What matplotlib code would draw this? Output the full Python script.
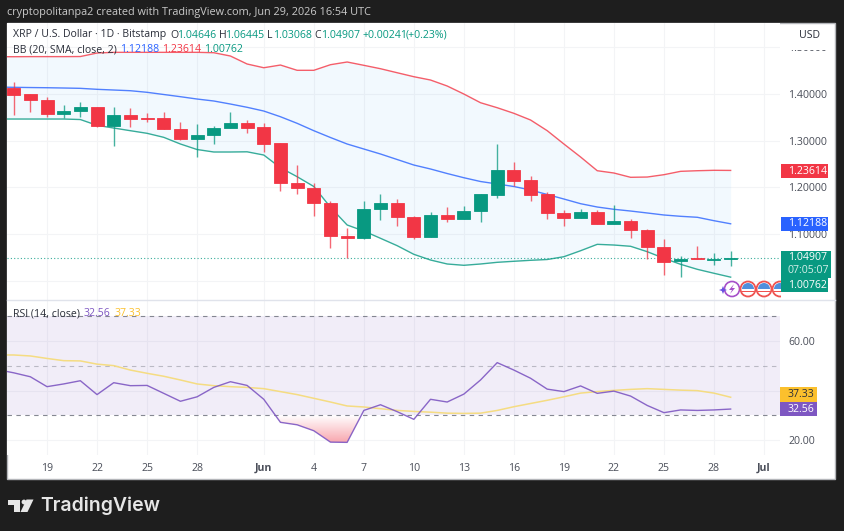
import matplotlib
matplotlib.use("Agg")
import matplotlib.pyplot as plt
import matplotlib.dates as mdates
import numpy as np
import pandas as pd
from matplotlib.patches import Rectangle, Circle, Polygon, Wedge
from matplotlib.colors import LinearSegmentedColormap

# Daily XRP/USD candles, 17 May - 29 Jun 2026
opens = [1.412, 1.399, 1.387, 1.357, 1.363, 1.371, 1.331, 1.355, 1.348, 1.348, 1.325, 1.303, 1.313, 1.327, 1.338,
         1.329, 1.294, 1.210, 1.199, 1.167, 1.096, 1.091, 1.153, 1.167, 1.136, 1.094, 1.141, 1.1315, 1.149, 1.1835,
         1.237, 1.215, 1.185, 1.1456, 1.134, 1.148, 1.122, 1.128, 1.1086, 1.072, 1.042, 1.049, 1.0452, 1.04646]
highs = [1.426, 1.400, 1.394, 1.376, 1.383, 1.371, 1.373, 1.370, 1.360, 1.362, 1.340, 1.336, 1.331, 1.362, 1.344,
         1.338, 1.295, 1.248, 1.210, 1.171, 1.1135, 1.171, 1.186, 1.176, 1.1385, 1.148, 1.157, 1.161, 1.186, 1.292,
         1.2535, 1.224, 1.190, 1.151, 1.153, 1.151, 1.163, 1.1315, 1.111, 1.089, 1.053, 1.075, 1.060, 1.06445]
lows = [1.355, 1.362, 1.351, 1.348, 1.350, 1.330, 1.288, 1.330, 1.340, 1.325, 1.301, 1.264, 1.293, 1.327, 1.317,
        1.276, 1.193, 1.185, 1.139, 1.070, 1.049, 1.089, 1.130, 1.117, 1.089, 1.094, 1.126, 1.1315, 1.126, 1.178,
        1.203, 1.170, 1.132, 1.117, 1.134, 1.122, 1.122, 1.092, 1.046, 1.012, 1.009, 1.046, 1.033, 1.03068]
closes = [1.398, 1.387, 1.357, 1.364, 1.371, 1.331, 1.355, 1.347, 1.347, 1.325, 1.303, 1.313, 1.327, 1.338, 1.328,
          1.293, 1.209, 1.198, 1.166, 1.096, 1.091, 1.1535, 1.167, 1.136, 1.094, 1.141, 1.1315, 1.149, 1.186, 1.237,
          1.214, 1.1835, 1.145, 1.134, 1.147, 1.122, 1.128, 1.108, 1.0715, 1.041, 1.0465, 1.0458, 1.04666, 1.04907]

# Bollinger bands and RSI start one day earlier, 16 May, and run off the left edge
bb_upper = [1.4796, 1.4796, 1.4798, 1.4798, 1.4798, 1.4800, 1.4875, 1.4890, 1.4890, 1.4890, 1.4890, 1.4890, 1.4890,
            1.4882, 1.4811, 1.4640, 1.4560, 1.4618, 1.4505, 1.4505, 1.4625, 1.4683, 1.4612, 1.4539, 1.4453, 1.4368,
            1.4297, 1.4169, 1.3997, 1.3811, 1.3704, 1.3584, 1.3441, 1.3212, 1.2927, 1.2649, 1.2355, 1.2306, 1.2214,
            1.2220, 1.2270, 1.2342, 1.2355, 1.2364, 1.23614]
bb_basis = [1.4146, 1.4141, 1.4136, 1.4132, 1.4126, 1.4119, 1.4098, 1.4083, 1.4068, 1.4034, 1.3987, 1.3940, 1.3890,
            1.3848, 1.3783, 1.3713, 1.3633, 1.3511, 1.3370, 1.3212, 1.3066, 1.2927, 1.2820, 1.2713, 1.2595, 1.2477,
            1.2392, 1.2295, 1.2205, 1.2124, 1.2071, 1.2017, 1.1942, 1.1846, 1.1749, 1.1649, 1.1578, 1.1529, 1.1492,
            1.1450, 1.1407, 1.1379, 1.1358, 1.1285, 1.12188]
bb_lower = [1.3462, 1.3462, 1.3462, 1.3462, 1.3462, 1.3451, 1.3327, 1.3269, 1.3212, 1.3156, 1.3070, 1.2927, 1.2809,
            1.2756, 1.2756, 1.2760, 1.2691, 1.2419, 1.2227, 1.2017, 1.1572, 1.1193, 1.1064, 1.0908, 1.0750, 1.0565,
            1.0443, 1.0358, 1.0330, 1.0358, 1.0394, 1.0416, 1.0437, 1.0454, 1.0514, 1.0642, 1.0779, 1.0764, 1.0737,
            1.0621, 1.0480, 1.0351, 1.0244, 1.0159, 1.00762]
rsi = [48.5, 47.2, 45.6, 41.6, 42.7, 44.0, 38.4, 43.2, 42.0, 42.1, 38.9, 35.7, 37.5, 41.3, 43.6, 42.1, 36.5, 27.2,
       26.2, 23.8, 19.2, 19.1, 32.0, 34.3, 31.5, 28.4, 36.5, 35.4, 38.6, 44.3, 51.3, 48.3, 45.0, 40.6, 39.6, 41.9,
       38.9, 39.8, 37.8, 34.0, 31.1, 32.2, 32.0, 32.2, 32.56]
rsi_ma = [54.4, 54.4, 54.0, 53.0, 52.1, 52.0, 50.7, 50.1, 48.3, 47.0, 45.8, 44.3, 42.7, 42.0, 41.6, 41.3, 40.8, 39.6,
          38.4, 36.9, 35.4, 33.8, 33.4, 32.7, 32.0, 31.6, 31.3, 30.9, 30.8, 30.9, 32.0, 33.5, 34.8, 36.1, 37.5, 39.0,
          39.6, 40.1, 40.5, 40.8, 40.5, 40.2, 40.0, 39.0, 37.33]

price_ticks = [1.0, 1.1, 1.2, 1.3, 1.4, 1.5]
rsi_ticks = [20, 40, 60]
time_ticks = ["2026-05-19", "2026-05-22", "2026-05-25", "2026-05-28", "2026-06-01", "2026-06-04", "2026-06-07",
              "2026-06-10", "2026-06-13", "2026-06-16", "2026-06-19", "2026-06-22", "2026-06-25", "2026-06-28",
              "2026-07-01"]
time_labels = ["19", "22", "25", "28", "Jun", "4", "7", "10", "13", "16", "19", "22", "25", "28", "Jul"]

candle_days = mdates.date2num(pd.date_range("2026-05-17", periods=len(opens)))
band_days = mdates.date2num(pd.date_range("2026-05-16", periods=len(bb_upper)))
tick_days = mdates.date2num(pd.to_datetime(time_ticks))

UP, DOWN, BLUE, PURPLE, YELLOW = "#089981", "#f23645", "#2962ff", "#7e57c2", "#fbc02d"
DARK, AXIS_TEXT, GRID = "#2a2e39", "#4a4e59", "#f3f4f6"
plt.rcParams["font.family"] = ["Open Sans", "DejaVu Sans"]

W, H = 844, 531
fig = plt.figure(figsize=(W / 100, H / 100), dpi=100, facecolor="#1e1e1e")


def pane(x0, y0, x1, y1):
    return fig.add_axes([x0 / W, 1 - y1 / H, (x1 - x0) / W, (y1 - y0) / H])


# White chart area behind the panes
back = pane(0, 0, W, H)
back.set_xlim(0, W)
back.set_ylim(H, 0)
back.axis("off")
back.add_patch(Rectangle((7, 23), 828, 456, fc="white", ec="#b4b6ba", lw=1))

x_left = candle_days[0] - 0.40
x_right = candle_days[0] + 45.96

# Price pane
ax = pane(7, 23, 780, 300)
ax.set_xlim(x_left, x_right)
ax.set_ylim(0.9587, 1.5518)
ax.fill_between(band_days, bb_lower, bb_upper, color="#2196f3", alpha=0.055, lw=0, zorder=1)
ax.plot(band_days, bb_upper, color=DOWN, lw=1, alpha=0.8, zorder=2)
ax.plot(band_days, bb_basis, color=BLUE, lw=1, alpha=0.8, zorder=2)
ax.plot(band_days, bb_lower, color=UP, lw=1, alpha=0.8, zorder=2)
ax.axhline(closes[-1], color=UP, lw=0.8, ls=(0, (1, 2)), alpha=0.8, zorder=2)
for d, o, h, l, c in zip(candle_days, opens, highs, lows, closes):
    col = UP if c >= o else DOWN
    ax.vlines(d, l, h, color=col, lw=1, alpha=0.75, zorder=3)
    ax.bar(d, abs(c - o), bottom=min(o, c), width=0.78, color=col, ec=col, lw=0.6, zorder=4)
ax.set_xticks(tick_days)
ax.set_yticks(price_ticks)
ax.set_yticklabels([f"{v:.5f}" for v in price_ticks])

# RSI pane
ax2 = pane(7, 301, 780, 455)
ax2.set_xlim(x_left, x_right)
ax2.set_ylim(14.0, 76.2)
ax2.axhspan(30, 70, color=PURPLE, alpha=0.105, lw=0, zorder=1)
for lvl, a in [(70, 0.9), (50, 0.45), (30, 0.9)]:
    ax2.axhline(lvl, color="#787b86", lw=0.8, ls=(0, (4, 4)), alpha=a, zorder=2)
under = ax2.fill_between(band_days, rsi, 30, where=np.array(rsi) < 30, interpolate=True, color="none", lw=0)
ramp = LinearSegmentedColormap.from_list("oversold", ["#f8a5ad", "#ffffff"])
glow = ax2.imshow(np.linspace(0, 1, 64).reshape(-1, 1), cmap=ramp, origin="lower", aspect="auto",
                  extent=(x_left, x_right, 19, 30), zorder=1.5)
glow.set_clip_path(under.get_paths()[0], transform=ax2.transData)
ax2.set_xlim(x_left, x_right)
ax2.set_ylim(14.0, 76.2)
ax2.plot(band_days, rsi_ma, color="#f5dc82", lw=1.1, zorder=3)
ax2.plot(band_days, rsi, color=PURPLE, lw=1, alpha=0.9, zorder=4)
ax2.set_xticks(tick_days)
ax2.set_xticklabels(time_labels)
ax2.set_yticks(rsi_ticks)
ax2.set_yticklabels([f"{v:.2f}" for v in rsi_ticks])
for lab in ax2.get_xticklabels():
    if lab.get_text() in ("Jun", "Jul"):
        lab.set_fontweight("bold")

for a in (ax, ax2):
    a.set_facecolor("white")
    a.yaxis.tick_right()
    a.grid(True, color=GRID, lw=0.8)
    a.set_axisbelow(True)
    for s in a.spines.values():
        s.set_visible(False)
    a.tick_params(axis="both", length=0, labelsize=7.6, colors=AXIS_TEXT)
    a.tick_params(axis="y", pad=5.8)
ax.tick_params(axis="x", labelbottom=False)
ax2.tick_params(axis="x", pad=5.5)

# Overlay drawn in figure pixels: legends, badges, header and footer
top = pane(0, 0, W, H)
top.set_xlim(0, W)
top.set_ylim(H, 0)
top.axis("off")
top.patch.set_alpha(0)


def label(x, y, s, color=DARK, size=7.6, ha="left", **kw):
    top.text(x, y, s, color=color, fontsize=size, ha=ha, va="center", **kw)


def badge(x0, x1, y0, y1, color, text=None, tcolor="white"):
    top.add_patch(Rectangle((x0, y0), x1 - x0, y1 - y0, fc=color, ec="none"))
    if text:
        label(788, (y0 + y1) / 2, text, tcolor)


top.plot([7, 835], [300, 300], color="#e0e3eb", lw=1)

label(7, 12, "cryptopolitanpa2 created with TradingView.com, Jun 29, 2026 16:54 UTC", "#c9c9c9", 7.85)

label(13, 35, "XRP / U.S. Dollar · 1D · Bitstamp")
for x, k, v in [(170, "O", f"{opens[-1]:.5f}"), (218.5, "H", f"{highs[-1]:.5f}"),
                (267.5, "L", f"{lows[-1]:.5f}"), (314.5, "C", f"{closes[-1]:.5f}")]:
    label(x, 35, k)
    label(x + 7 if k != "L" else x + 5.5, 35, v, UP)
label(362, 35, "+0.00241", UP)
label(406, 35, "(+0.23%)", UP)

label(13, 50, "BB (20, SMA, close, 2)")
label(120, 50, f"{bb_basis[-1]:.5f}", BLUE)
label(162, 50, f"{bb_upper[-1]:.5f}", DOWN)
label(204, 50, f"{bb_lower[-1]:.5f}", UP)

label(13, 314, "RSI (14, close)")
label(84, 314, f"{rsi[-1]:.2f}", PURPLE)
label(115, 314, f"{rsi_ma[-1]:.2f}", YELLOW)

# Currency button over the topmost price label
top.add_patch(Rectangle((783, 25), 49, 25, fc="white", ec="none"))
label(799, 36, "USD", DARK, 7.6)

badge(781, 828, 164, 178, DOWN, f"{bb_upper[-1]:.5f}")
badge(781, 828, 217, 231, BLUE, f"{bb_basis[-1]:.5f}")
badge(781, 831, 251, 278, UP)
label(788, 258, f"{closes[-1]:.5f}", "white")
label(788, 270.5, "07:05:07", "#d4efe9")
badge(781, 828, 278, 292, UP, f"{bb_lower[-1]:.5f}")
badge(780, 817, 387, 402, YELLOW, f"{rsi_ma[-1]:.2f}", DARK)
badge(780, 817, 402, 416, PURPLE, f"{rsi[-1]:.2f}")

# Event icons along the bottom of the price pane
top.add_patch(Circle((732, 289), 7.5, fc="white", ec="#a64fc9", lw=1.2, zorder=5))
top.add_patch(Polygon([(734, 284), (729, 290), (732, 290), (730, 294), (735, 288), (732, 288)],
                      fc="#a64fc9", ec="none", zorder=6))
top.add_patch(Polygon([(723, 286), (724.2, 289), (727, 290), (724.2, 291), (723, 294), (721.8, 291), (719, 290), (721.8, 289)],
                      fc="#6a4fe0", ec="none", zorder=6))
clip = Rectangle((0, 0), 781, H, transform=top.transData)
for cx in (748, 764, 780):
    disc = Circle((cx, 289), 7.5, fc="white", ec="#ef5350", lw=1.3, zorder=6)
    top.add_patch(disc)
    blue = Wedge((cx, 289), 6, 180, 360, fc="#4f8fdc", ec="none", zorder=7)
    top.add_patch(blue)
    strip = Rectangle((cx - 6, 290.5), 12, 1.8, fc="#ef5350", ec="none", zorder=7)
    top.add_patch(strip)
    for p in (disc, blue, strip):
        p.set_clip_path(clip)

# Footer logotype
logo = "#e6e6e6"
top.add_patch(Polygon([(8, 499.5), (20, 499.5), (20, 512), (14, 512), (14, 504.5), (8, 504.5)], fc=logo, ec="none"))
top.add_patch(Circle((24, 502), 2.4, fc=logo, ec="none"))
top.add_patch(Polygon([(26.5, 499.5), (33.5, 499.5), (27.5, 512), (20.5, 512)], fc=logo, ec="none"))
top.text(40.5, 505.5, "TradingView", color=logo, fontsize=14, fontweight="semibold", family="Inter",
         ha="left", va="center")

fig.savefig("out.png", dpi=100, facecolor=fig.get_facecolor())
